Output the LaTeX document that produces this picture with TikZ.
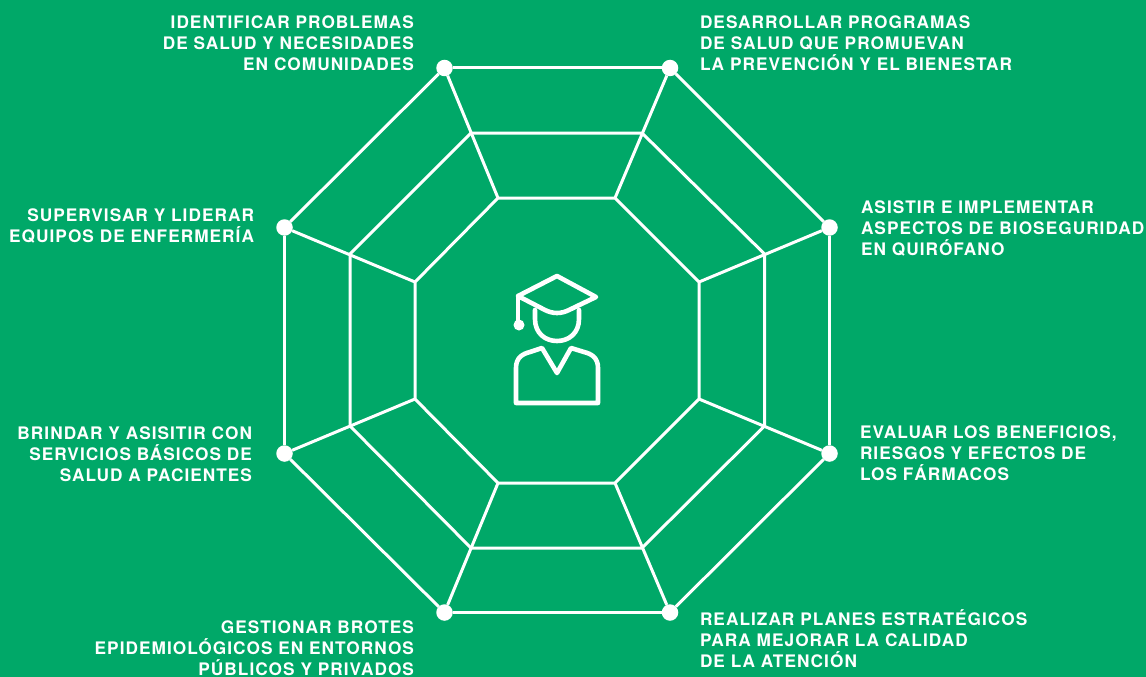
\documentclass[tikz,border=0pt]{standalone}
\usepackage{fontspec}
\setmainfont{TeX Gyre Heros}[LetterSpace=6]
\definecolor{fondo}{HTML}{00A868}
\tikzstyle{competencia}=[text=white,font=\fontsize{17.25}{21}\selectfont\bfseries,
    inner sep=0pt,outer sep=0pt]
\tikzstyle{punto}=[fill=white,circle,minimum size=16.5pt,inner sep=0pt,outer sep=0pt]
\tikzstyle{red octagono}=[draw=white,line width=3pt,line join=miter]
\tikzstyle{icono}=[draw=white,line width=4.6pt,line join=round,line cap=round]
\newcommand{\vertice}[2]{
    \node[punto] at (#1) (#2) {};
}
\newcommand{\tramo}[2]{\draw[red octagono] (#1)--(#2);}
\newcommand{\izquierda}[3]{
    \node[competencia,anchor=east,align=right] at (#1) (#2) {#3};
}
\newcommand{\derecha}[3]{
    \node[competencia,anchor=west,align=left] at (#1) (#2) {#3};
}

\begin{document}
\begin{tikzpicture}[x=1pt,y=-1pt]
    \useasboundingbox[fill=fondo] (0,0) rectangle (1146,677);

    % exterior
    \vertice{444.5,68}{A}
    \vertice{670,68}{B}
    \vertice{829.5,227.5}{C}
    \vertice{829.5,453.5}{D}
    \vertice{670,612.5}{E}
    \vertice{444.5,612.5}{F}
    \vertice{284.5,453.5}{G}
    \vertice{284.5,227.5}{H}
    % medio
    \coordinate (A2) at (471,133);
    \coordinate (B2) at (642,133);
    \coordinate (C2) at (764.5,254);
    \coordinate (D2) at (764.5,426);
    \coordinate (E2) at (642,548);
    \coordinate (F2) at (471,548);
    \coordinate (G2) at (350,426);
    \coordinate (H2) at (350,254);
    % interior
    \coordinate (A3) at (498,198);
    \coordinate (B3) at (615,198);
    \coordinate (C3) at (699,282);
    \coordinate (D3) at (699,399);
    \coordinate (E3) at (615,483);
    \coordinate (F3) at (498,483);
    \coordinate (G3) at (415,399);
    \coordinate (H3) at (415,282);

    \tramo{A}{B}
    \tramo{B}{C}
    \tramo{C}{D}
    \tramo{D}{E}
    \tramo{E}{F}
    \tramo{F}{G}
    \tramo{G}{H}
    \tramo{H}{A}
    \draw[red octagono] (A2)--(B2)--(C2)--(D2)--(E2)--(F2)--(G2)--(H2)--cycle;
    \draw[red octagono] (A3)--(B3)--(C3)--(D3)--(E3)--(F3)--(G3)--(H3)--cycle;
    \tramo{A}{A3}
    \tramo{B}{B3}
    \tramo{C}{C3}
    \tramo{D}{D3}
    \tramo{E}{E3}
    \tramo{F}{F3}
    \tramo{G}{G3}
    \tramo{H}{H3}

    \izquierda{414,43}{identificar}{IDENTIFICAR PROBLEMAS\\DE SALUD Y NECESIDADES\\EN COMUNIDADES}
    \derecha{700,43}{desarrollar}{DESARROLLAR PROGRAMAS\\DE SALUD QUE PROMUEVAN\\LA PREVENCIÓN Y EL BIENESTAR}
    \derecha{861,228}{asistir}{ASISTIR E IMPLEMENTAR\\ASPECTOS DE BIOSEGURIDAD\\EN QUIRÓFANO}
    \derecha{860,453}{evaluar}{EVALUAR LOS BENEFICIOS,\\RIESGOS Y EFECTOS DE\\LOS FÁRMACOS}
    \derecha{700,639}{realizar}{REALIZAR PLANES ESTRATÉGICOS\\PARA MEJORAR LA CALIDAD\\DE LA ATENCIÓN}
    \izquierda{414,648}{gestionar}{GESTIONAR BROTES\\EPIDEMIOLÓGICOS EN ENTORNOS\\PÚBLICOS Y PRIVADOS}
    \izquierda{252,454}{brindar}{BRINDAR Y ASISITIR CON\\SERVICIOS BÁSICOS DE\\SALUD A PACIENTES}
    \izquierda{254,226}{supervisar}{SUPERVISAR Y LIDERAR\\EQUIPOS DE ENFERMERÍA}

    % icono
    \draw[icono] (557,276)--(596,297)--(569,310) .. controls (561,314) and (553,314) .. (545,310)
        --(518,296)--cycle;
    \draw[icono] (518,296)--(518,325);
    \node[fill=white,circle,minimum size=11pt,inner sep=0pt] (borla) at (519,325) {};
    \draw[icono] (535,310)--(535,319) .. controls (535,333) and (545,341) .. (557,341)
        .. controls (569,341) and (579,333) .. (579,319)--(579,310);
    \draw[icono] (542,348)--(530,352) .. controls (522,354) and (516,358) .. (516,368)--(516,403)
        --(598,403)--(598,368) .. controls (598,358) and (592,354) .. (584,352)--(571,348)
        --(557,373)--cycle;
\end{tikzpicture}
\end{document}
